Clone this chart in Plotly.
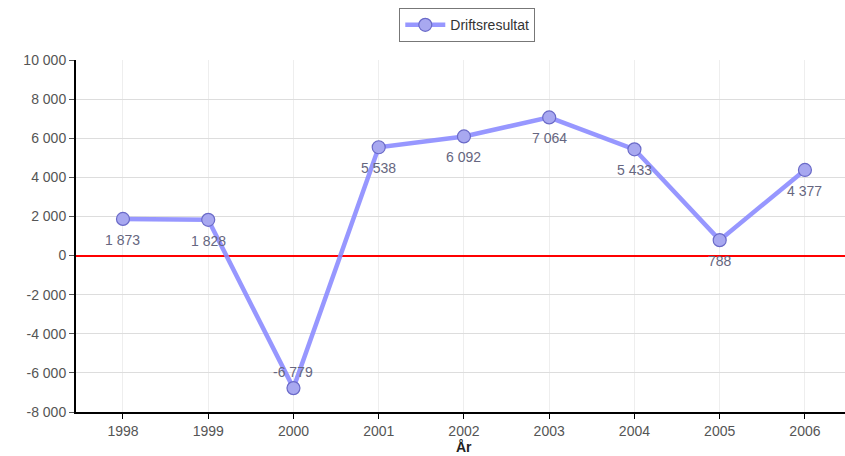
import plotly.graph_objects as go

years = [1998, 1999, 2000, 2001, 2002, 2003, 2004, 2005, 2006]
values = [1873, 1828, -6779, 5538, 6092, 7064, 5433, 788, 4377]
series_name = "Driftsresultat"
x_title = "År"
y_ticks = list(range(-8000, 10001, 2000))

def fmt(v):
    return f"{v:,}".replace(",", " ")

fig = go.Figure()
fig.add_trace(go.Scatter(
    x=years, y=values, name=series_name,
    mode="lines+markers",
    line=dict(color="rgba(140,140,255,0.9)", width=4.5),
    marker=dict(size=13, color="#a8a8f0", line=dict(color="#6a6ac8", width=1.2)),
    cliponaxis=False,
))

for x, v in zip(years, values):
    fig.add_annotation(x=x, y=v, text=fmt(v), showarrow=False,
                       yshift=(16 if v < -5000 else -21),
                       font=dict(family="Liberation Sans, Arial", size=14, color="#666680"))

fig.add_annotation(xref="paper", yref="paper", x=0.5, y=0, xshift=3, yshift=-35,
                   yanchor="middle", text=f"<b>{x_title}</b>", showarrow=False,
                   font=dict(family="Liberation Sans, Arial", size=14, color="#222222"))

fig.update_layout(
    width=845, height=456,
    margin=dict(l=76, r=0, t=60, b=44, autoexpand=False),
    paper_bgcolor="white", plot_bgcolor="white",
    font=dict(family="Liberation Sans, Arial", size=13, color="#555555"),
    showlegend=True,
    legend=dict(orientation="h", xref="container", x=0.553, xanchor="center",
                yref="container", y=0.982, yanchor="top",
                bordercolor="#777777", borderwidth=1,
                bgcolor="white", font=dict(size=14, color="#333333"),
                itemwidth=40),
    xaxis=dict(range=[1997.449, 2006.47], tickmode="array", tickvals=years,
               ticktext=[str(y) for y in years], automargin=False,
               showgrid=True, gridcolor="#eeeeee", gridwidth=1,
               showline=True, linecolor="black", linewidth=2,
               ticks="outside", ticklen=5, tickcolor="black",
               tickfont=dict(size=14),
               zeroline=False),
    yaxis=dict(range=[-8000, 10000], tickvals=y_ticks, automargin=False,
               ticktext=[fmt(v) for v in y_ticks],
               showgrid=True, gridcolor="#dddddd", gridwidth=1,
               showline=True, linecolor="black", linewidth=2,
               ticks="outside", ticklen=5, tickcolor="#555555",
               tickfont=dict(size=14),
               zeroline=True, zerolinecolor="#ff0000", zerolinewidth=1.5),
)

fig.write_html("out.html", config={"displayModeBar": False},
               post_script="document.body.style.margin='0';document.body.style.overflow='hidden';")
